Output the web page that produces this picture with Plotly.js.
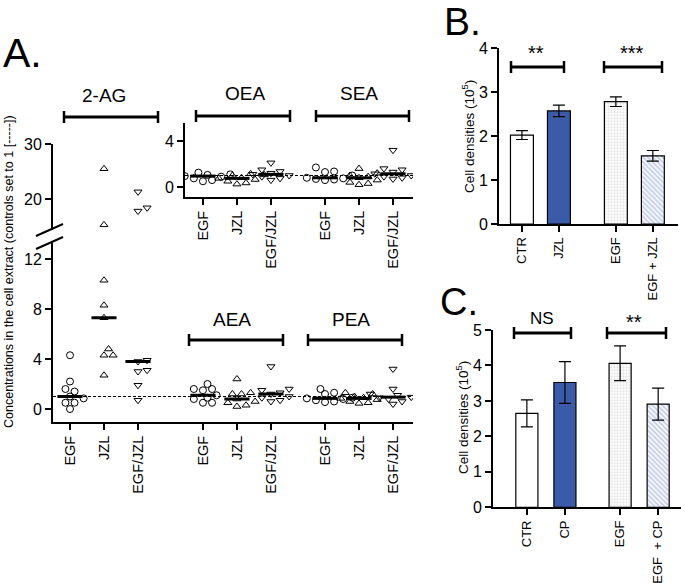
<!DOCTYPE html>
<html><head><meta charset="utf-8">
<script src="https://cdn.plot.ly/plotly-3.0.1.min.js"></script>
<style>html,body{margin:0;padding:0;background:#fff}#chart{width:685px;height:583px}</style>
</head><body><div id="chart"></div>
<script>
// ---------- DATA ----------
const treatments = ['EGF', 'JZL', 'EGF/JZL'];
const analytesTop = ['OEA', 'SEA'];
const analytesBottom = ['AEA', 'PEA'];
// Panel A: 2-AG (fold of control)
const ag2_EGF    = [4.3, 2.2, 1.6, 1.4, 1.0, 0.85, 0.5, 0.5, 0.0];
const ag2_JZL    = [25.5, 15.3, 10.3, 8.3, 7.3, 4.8, 4.3, 4.3, 2.7];
const ag2_EGFJZL = [21.3, 18.4, 17.8, 3.9, 3.8, 3.1, 3.0, 1.9, 0.7];
// OEA
const oea_EGF    = [1.25, 1.15, 1.1, 1.05, 0.95, 0.9, 0.75, 0.6, 0.5];
const oea_JZL    = [1.15, 1.05, 1.0, 0.8, 0.75, 0.65, 0.5, 0.35, 0.25];
const oea_EGFJZL = [2.1, 1.5, 1.35, 1.2, 1.1, 1.0, 0.9, 0.75, 0.6];
// SEA
const sea_EGF    = [1.7, 1.35, 1.3, 1.0, 0.8, 0.75, 0.7, 0.65, 0.6];
const sea_JZL    = [1.6, 1.2, 1.0, 0.9, 0.8, 0.6, 0.4, 0.3, 0.2];
const sea_EGFJZL = [3.2, 1.6, 1.5, 1.3, 1.15, 1.0, 0.9, 0.8, 0.7];
// AEA
const aea_EGF    = [2.0, 1.6, 1.6, 1.5, 1.1, 0.9, 0.8, 0.5, 0.5];
const aea_JZL    = [2.4, 1.3, 1.2, 1.2, 0.8, 0.6, 0.5, 0.3, 0.2];
const aea_EGFJZL = [3.4, 1.6, 1.5, 1.3, 1.2, 1.0, 0.9, 0.7, 0.6];
// PEA
const pea_EGF    = [1.6, 1.3, 1.2, 0.9, 0.85, 0.8, 0.7, 0.6, 0.55];
const pea_JZL    = [1.3, 1.2, 1.0, 0.9, 0.85, 0.75, 0.6, 0.5, 0.45];
const pea_EGFJZL = [3.2, 1.6, 1.2, 1.1, 0.95, 0.9, 0.8, 0.6, 0.4];
const controlLevel = 1;
// Panel B
const bCats  = ['CTR', 'JZL', 'EGF', 'EGF + JZL'];
const bMeans = [2.02, 2.57, 2.78, 1.55];
const bErr   = [0.10, 0.13, 0.11, 0.12];
const bSig   = ['**', '***'];
// Panel C
const cCats  = ['CTR', 'CP', 'EGF', 'EGF  + CP'];
const cMeans = [2.65, 3.52, 4.06, 2.91];
const cErr   = [0.38, 0.59, 0.49, 0.45];
const cSig   = ['NS', '**'];

// ---------- LAYOUT HELPERS ----------
const W = 685, H = 583;
const fx = p => p / W, fy = p => 1 - p / H;
const FONT = 'Arial, "Liberation Sans", Helvetica, sans-serif';
const symbols = ['circle-open', 'triangle-up-open', 'triangle-down-open'];
const grpStart = {ag2: 0, g1: 3.91, g2: 7.5};
const pxPerX = 34;

function median(a){const s=[...a].sort((p,q)=>p-q);const n=s.length;return n%2?s[(n-1)/2]:(s[n/2-1]+s[n/2])/2;}
function swarm(vals, center, toPx, d){
  const idx = vals.map((v,i)=>i).sort((a,b)=>vals[a]-vals[b]);
  const placed=[]; const xs=new Array(vals.length);
  for(const i of idx){
    const yp = toPx(vals[i]); let off=0;
    for(let k=0;k<30;k++){
      const c = k===0?0:(k%2?1:-1)*Math.ceil(k/2)*d*0.7;
      if(placed.every(p=>Math.hypot(p.x-c,p.y-yp)>=d)){off=c;break;}
    }
    placed.push({x:off,y:yp}); xs[i]=center+off/pxPerX;
  }
  return xs;
}

const traces = [];
function addGroup(vals, center, sym, xa, ya, toPx, split){
  const xs = swarm(vals, center, toPx, 6.5);
  const lo = [], hi = [];
  vals.forEach((v,i)=>{ (split!==undefined && v>split ? hi : lo).push(i); });
  traces.push({type:'scatter', mode:'markers', xaxis:xa, yaxis:ya,
    x: lo.map(i=>xs[i]), y: lo.map(i=>vals[i]),
    marker:{symbol:sym, size:7, color:'black', line:{width:1, color:'black'}}, hoverinfo:'y'});
  if(hi.length) traces.push({type:'scatter', mode:'markers', xaxis:xa, yaxis:'y2',
    x: hi.map(i=>xs[i]), y: hi.map(i=>vals[i]),
    marker:{symbol:sym, size:7, color:'black', line:{width:1, color:'black'}}, hoverinfo:'y'});
  const m = median(vals);
  traces.push({type:'scatter', mode:'lines', xaxis:xa, yaxis:(split!==undefined && m>split)?'y2':ya,
    x:[center-0.37, center+0.37], y:[m,m], line:{color:'black', width:3}, hoverinfo:'skip'});
}
const lowPx = v => v*12.5;
const agPx = v => v<=14 ? v*12.5 : 14*12.5+13+(v-14)*5.5;
const topPx = v => v*11.5;

[ag2_EGF, ag2_JZL, ag2_EGFJZL].forEach((d,i)=>addGroup(d, grpStart.ag2+i, symbols[i], 'x', 'y', agPx, 14));
[oea_EGF, oea_JZL, oea_EGFJZL].forEach((d,i)=>addGroup(d, grpStart.g1+i, symbols[i], 'x3', 'y3', topPx));
[sea_EGF, sea_JZL, sea_EGFJZL].forEach((d,i)=>addGroup(d, grpStart.g2+i, symbols[i], 'x3', 'y3', topPx));
[aea_EGF, aea_JZL, aea_EGFJZL].forEach((d,i)=>addGroup(d, grpStart.g1+i, symbols[i], 'x', 'y', lowPx));
[pea_EGF, pea_JZL, pea_EGFJZL].forEach((d,i)=>addGroup(d, grpStart.g2+i, symbols[i], 'x', 'y', lowPx));

// Bars
const blue = '#3B5BA9';
const barMarker = {
  color: ['white', blue, '#e6e6e6', '#c3cbe6'],
  line: {color:'black', width:1.2},
  pattern: {shape:['', '', '.', '\\'], fgcolor:['black', blue, '#8a8a8a', '#4a66b0'],
            bgcolor:['white', blue, '#f0f0f0', '#dde2f2'], size:[6,6,3,3.5], solidity:[0.3,0.3,0.45,0.55], fillmode:'replace'}
};
const bX = [0, 1, 2.54, 3.54];
const cX = [0, 1, 2.45, 3.45];
traces.push({type:'bar', xaxis:'x4', yaxis:'y4', x:bX, y:bMeans, width:0.62, marker:barMarker,
  error_y:{type:'data', array:bErr, visible:true, color:'black', thickness:1.2, width:6}});
traces.push({type:'bar', xaxis:'x5', yaxis:'y5', x:cX, y:cMeans, width:0.58, marker:barMarker,
  error_y:{type:'data', array:cErr, visible:true, color:'black', thickness:1.2, width:6}});

const axBase = {showline:true, linecolor:'black', linewidth:2, ticks:'outside', ticklen:6, tickwidth:2,
  tickcolor:'black', showgrid:false, zeroline:false, tickfont:{family:FONT, size:16, color:'black'}};
const xTickFont = {family:FONT, size:14.5, color:'black'};
const bcTickFont = {family:FONT, size:13, color:'black'};

const allPos = [0,1,2, grpStart.g1, grpStart.g1+1, grpStart.g1+2, grpStart.g2, grpStart.g2+1, grpStart.g2+2];
const allTxt = [...treatments, ...treatments, ...treatments];

const layout = {
  width: W, height: H, margin:{l:0,r:0,t:0,b:0}, showlegend:false,
  paper_bgcolor:'white', plot_bgcolor:'rgba(0,0,0,0)', font:{family:FONT, color:'black'},
  xaxis: {...axBase, domain:[fx(53), fx(413)], range:[-0.5, 10.088], anchor:'y',
          tickvals: allPos, ticktext: allTxt, tickangle:-90, tickfont:xTickFont},
  yaxis: {...axBase, domain:[fy(422), fy(243)], range:[-1.04, 13.28], anchor:'x', tickvals:[0,4,8,12]},
  yaxis2:{...axBase, domain:[fy(230), fy(144)], range:[14.36, 30], anchor:'x', tickvals:[20,30]},
  xaxis3:{...axBase, domain:[fx(185), fx(413)], range:[3.382, 10.088], anchor:'y3',
          tickvals: allPos.slice(3), ticktext: allTxt.slice(3), tickangle:-90, tickfont:xTickFont},
  yaxis3:{...axBase, domain:[fy(197), fy(123)], range:[-0.87, 5.565], anchor:'x3', tickvals:[0,4]},
  xaxis4:{...axBase, domain:[fx(499), fx(678)], range:[-0.62, 4.22], anchor:'y4',
          tickvals:bX, ticktext:bCats, tickangle:-90, tickfont:bcTickFont},
  yaxis4:{...axBase, domain:[fy(224), fy(48)], range:[0, 4], anchor:'x4', tickvals:[0,1,2,3,4]},
  xaxis5:{...axBase, domain:[fx(493), fx(681)], range:[-0.89, 4.05], anchor:'y5',
          tickvals:cX, ticktext:cCats, tickangle:-90, tickfont:bcTickFont},
  yaxis5:{...axBase, domain:[fy(507.3), fy(330)], range:[0, 5], anchor:'x5', tickvals:[0,1,2,3,4,5]},
  shapes: [], annotations: []
};

layout.shapes.push({type:'line', xref:'x domain', yref:'y', x0:0, x1:1, y0:controlLevel, y1:controlLevel, line:{color:'black', width:1, dash:'3px,2px'}});
layout.shapes.push({type:'line', xref:'x3 domain', yref:'y3', x0:0, x1:1, y0:controlLevel, y1:controlLevel, line:{color:'black', width:1, dash:'3px,2px'}});
[[236,224],[249,237]].forEach(([a,b])=>layout.shapes.push({type:'line', xref:'paper', yref:'paper',
  x0:fx(36), y0:fy(a), x1:fx(63), y1:fy(b), line:{color:'black', width:2}}));

function bracket(x0, x1, y){
  layout.shapes.push({type:'line', xref:'paper', yref:'paper', x0:fx(x0), x1:fx(x1), y0:fy(y), y1:fy(y), line:{color:'black', width:3}});
  [x0,x1].forEach(xx=>layout.shapes.push({type:'line', xref:'paper', yref:'paper', x0:fx(xx), x1:fx(xx), y0:fy(y-6), y1:fy(y+6), line:{color:'black', width:2.5}}));
}
function label(txt, x, y, size, opts){
  layout.annotations.push(Object.assign({text:txt, xref:'paper', yref:'paper', x:fx(x), y:fy(y), xanchor:'center', yanchor:'middle',
    showarrow:false, font:{family:FONT, size:size, color:'black'}}, opts||{}));
}
bracket(64, 158, 117); label('2-AG', 104, 96, 19);
bracket(196, 290, 116); label(analytesTop[0], 245, 93, 19);
bracket(316, 409, 116); label(analytesTop[1], 359, 93, 19);
bracket(189, 283, 340); label(analytesBottom[0], 232, 319, 19);
bracket(308, 402, 340); label(analytesBottom[1], 351, 319, 19);
bracket(511, 564, 67); label(bSig[0], 536, 53, 20);
bracket(604, 662, 67); label(bSig[1], 632, 53, 20);
bracket(514, 571, 333); label(cSig[0], 542, 318, 17);
bracket(607, 666, 333); label(cSig[1], 634, 322, 20);
label('A.', 22, 53, 41);
label('B.', 462, 22, 39);
label('C.', 459, 302, 38);
label('Concentrations in the cell extract (controls set to 1 [-----])', 9, 272, 12.5, {textangle:-90});
label('Cell densities (10<sup>5</sup>)', 468, 137, 13.5, {textangle:-90});
label('Cell densities (10<sup>5</sup>)', 462, 418, 13.5, {textangle:-90});

Plotly.newPlot('chart', traces, layout, {staticPlot:true});
</script></body></html>
